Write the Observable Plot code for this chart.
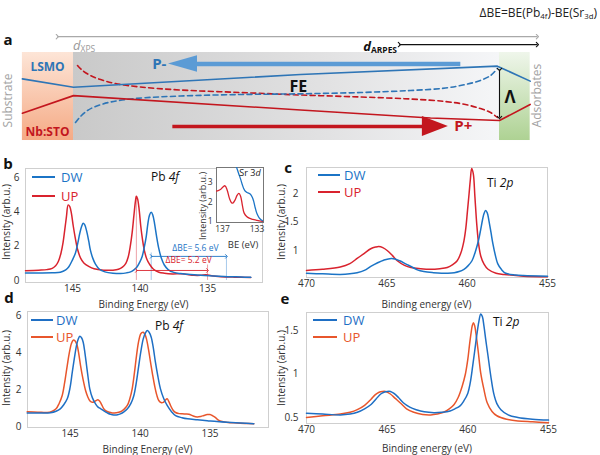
<!DOCTYPE html>
<html>
<head>
<meta charset="utf-8">
<script src="https://cdn.jsdelivr.net/npm/d3@7"></script>
<script src="https://cdn.jsdelivr.net/npm/@observablehq/plot@0.6"></script>
<style>
  html,body{margin:0;padding:0;background:#fff;}
  #fig{position:relative;width:600px;height:455px;overflow:hidden;background:#fff;font-family:"Open Sans",sans-serif;color:#222;}
  #fig svg{position:absolute;}
  .t{position:absolute;white-space:nowrap;line-height:1;}
  .t sub{font-size:0.65em;vertical-align:-0.3em;line-height:0;}
</style>
</head>
<body>
<div id="fig"></div>
<script>
// ================= DATA =================
// ---- panel a: schematic (film depth: FE layer spans 0..100; vertical: energy-like units) ----
const layers = [
  {name: "Substrate", x1: -12, x2: 0, y1: -10, y2: 10},
  {name: "FE", x1: 0, x2: 100, y1: -10, y2: 10},
  {name: "Adsorbates", x1: 100, x2: 107.2, y1: -10, y2: 10}
];
const bandLSMO = [[-12, 4.0], [0, 2.1], [53.3, 5.0], [99.5, 6.9], [107.2, 3.5]];
const bandSTO = [[-12, -3.8], [0, 0.2], [53.3, -3.07], [83.8, -4.89], [100, -5.45], [107.2, -1.8]];
const dashUP = [[0.94, 7.05], [2.11, 5.91], [3.99, 4.77], [6.34, 3.86], [9.86, 2.95], [15.73, 2.16], [25.12, 1.48],
  [39.2, 0.91], [53.3, 0.34], [67.4, -0.11], [79.1, -0.57], [87.3, -1.14], [92.0, -1.82], [95.5, -2.73], [97.9, -3.64], [99.5, -4.77]];
const dashDW = [[0.47, -5.91], [1.64, -4.55], [3.29, -3.18], [5.16, -2.27], [8.69, -1.25], [14.55, -0.45], [25.12, 0.11],
  [39.2, 0.45], [53.3, 0.61], [67.4, 0.91], [79.1, 1.36], [87.3, 1.93], [92.0, 2.73], [95.5, 3.64], [97.9, 4.77], [99.5, 6.36]];
const probeDepths = [
  {name: "XPS", x1: -3.8, x2: 108.9, y: 13.6},
  {name: "ARPES", x1: 76.5, x2: 108.9, y: 11.8}
];
const lambdaStep = [{x: 100, y1: 6.14, y2: -4.77}];
const pMinusShaft = [{x1: 90.8, x2: 28, y: 7.39}];
const pMinusHead = [{x: 22.3, y1: 7.39, y2: 7.39}, {x: 29.1, y1: 5.52, y2: 9.26}];
const pPlusShaft = [{x1: 23.2, x2: 83, y: -6.82}];
const pPlusHead = [{x: 81.9, y1: -9.09, y2: -4.55}, {x: 88.0, y1: -6.82, y2: -6.82}];
const aTexts = [
  {text: "Substrate", x: -15.3, y: -0.9},
  {text: "Adsorbates", x: 108.9, y: 0.2},
  {text: "LSMO", x: -6.1, y: 6.6},
  {text: "Nb:STO", x: -6.1, y: -8.2},
  {text: "FE", x: 52.8, y: 2.3},
  {text: "P-", x: 21.8, y: 7.4},
  {text: "P+", x: 89.4, y: -6.8},
  {text: "Λ", x: 101.2, y: -0.3}
];

// ---- panel b: Pb 4f (binding energy eV, intensity arb.u.) ----
const bDW = [[148.48,0.43],[146.5,0.45],[145.9,0.48],[145.5,0.62],[145.27,0.8],[145.0,1.2],[144.78,1.6],[144.6,2.2],[144.46,2.75],
  [144.32,3.15],[144.21,3.33],[144.1,3.25],[143.96,2.9],[143.8,2.3],[143.67,1.75],[143.5,1.3],[143.3,0.95],[143.0,0.65],[142.6,0.5],
  [142.0,0.42],[141.44,0.4],[141.0,0.44],[140.7,0.5],[140.45,0.62],[140.21,0.8],[140.0,1.1],[139.84,1.4],[139.68,1.95],[139.54,2.55],
  [139.42,3.3],[139.3,3.8],[139.17,3.97],[139.05,3.8],[138.92,3.3],[138.78,2.6],[138.62,1.9],[138.43,1.32],[138.2,0.9],[137.9,0.62],
  [137.5,0.47],[137.0,0.4],[136.5,0.36],[135.5,0.3],[134.5,0.26],[133.5,0.22],[132.5,0.2],[131.8,0.18]];
const bUP = [[148.48,0.57],[147.5,0.6],[146.9,0.63],[146.5,0.7],[146.25,0.85],[146.05,1.1],[145.85,1.6],[145.7,2.2],[145.58,2.9],
  [145.45,3.7],[145.32,4.4],[145.2,4.3],[145.08,3.9],[144.95,3.2],[144.8,2.5],[144.62,1.8],[144.4,1.3],[144.16,1.02],[143.8,0.82],
  [143.4,0.68],[142.7,0.6],[142.0,0.6],[141.6,0.65],[141.3,0.78],[141.05,1.0],[140.88,1.35],[140.72,2.0],[140.58,2.8],[140.45,3.8],
  [140.34,4.6],[140.27,4.9],[140.18,4.75],[140.06,4.1],[139.95,3.2],[139.82,2.4],[139.68,1.75],[139.5,1.25],[139.3,0.95],[139.0,0.65],
  [138.6,0.48],[138.2,0.42],[137.6,0.38],[137.0,0.39],[136.6,0.36],[136.0,0.3],[135.5,0.3],[135.1,0.33],[134.7,0.27],[134.0,0.22],
  [133.0,0.19],[131.8,0.17]];
const bShiftRules = [
  {be: 140.27, top: 4.9, pol: "UP"}, {be: 135.0, top: 0.9, pol: "UP"},
  {be: 139.17, top: 1.6, pol: "DW"}, {be: 133.6, top: 1.4, pol: "DW"}
];
const bShiftArrows = [
  {pol: "DW", from: 139.17, to: 133.6, y: 1.4, label: "ΔBE= 5.6 eV", lx: 135.9, ly: 1.85},
  {pol: "UP", from: 140.27, to: 135.0, y: 0.58, label: "ΔBE= 5.2 eV", lx: 136.4, ly: 1.16}
];
// inset: Sr 3d
const insDW = [[135.7,4.3],[135.5,3.95],[135.3,3.68],[135.1,3.42],[134.9,3.17],[134.7,2.88],[134.53,2.68],[134.35,2.55],[134.15,2.49],
  [133.95,2.45],[133.77,2.4],[133.55,2.25],[133.39,2.05],[133.2,1.7],[133.0,1.4],[132.75,1.2],[132.5,1.09],[132.25,1.03]];
const insUP = [[137.69,2.56],[137.5,2.58],[137.2,2.65],[136.95,2.77],[136.7,2.83],[136.45,2.6],[136.2,2.2],[135.95,1.97],[135.8,1.95],
  [135.55,2.1],[135.3,2.35],[135.1,2.44],[134.9,2.3],[134.7,1.85],[134.5,1.45],[134.2,1.27],[133.9,1.18],[133.5,1.12],[133.0,1.07],[132.25,1.01]];

// ---- panel c: Ti 2p ----
const cUP = [[470,0.65],[469,0.67],[467.9,0.71],[467.3,0.77],[466.85,0.86],[466.4,0.95],[466.0,1.03],[465.7,1.06],[465.5,1.07],
  [465.25,1.05],[464.98,1.0],[464.65,0.91],[464.35,0.82],[463.9,0.74],[463.5,0.7],[462.9,0.68],[462.3,0.67],[461.7,0.68],[461.24,0.7],
  [460.9,0.75],[460.62,0.82],[460.4,0.95],[460.2,1.17],[460.08,1.4],[459.98,1.7],[459.88,2.0],[459.8,2.25],[459.72,2.44],[459.62,2.35],
  [459.52,1.95],[459.4,1.45],[459.28,1.1],[459.15,0.9],[458.95,0.76],[458.7,0.67],[458.2,0.6],[457.7,0.58],[456.5,0.55],[455,0.54]];
const cDW = [[470,0.6],[469,0.59],[467.9,0.58],[467.3,0.59],[466.85,0.61],[466.4,0.65],[466.0,0.72],[465.6,0.78],[465.2,0.83],
  [464.7,0.86],[464.2,0.82],[463.8,0.76],[463.5,0.72],[463.1,0.66],[462.7,0.63],[462.1,0.61],[461.6,0.6],[461.2,0.6],[460.8,0.61],
  [460.5,0.63],[460.2,0.67],[459.95,0.73],[459.7,0.82],[459.5,0.97],[459.3,1.17],[459.15,1.38],[459.05,1.53],[458.95,1.65],[458.85,1.7],
  [458.75,1.66],[458.65,1.53],[458.52,1.32],[458.4,1.12],[458.25,0.92],[458.1,0.77],[457.85,0.66],[457.6,0.6],[457.0,0.57],[456.5,0.56],[455,0.55]];

// ---- panel d: Pb 4f ----
const dDW = [[148.06,0.74],[147.2,0.74],[146.4,0.75],[146.0,0.83],[145.7,0.96],[145.45,1.18],[145.2,1.5],[145.0,2.1],[144.84,2.94],
  [144.68,3.75],[144.54,4.38],[144.42,4.72],[144.3,4.88],[144.18,4.8],[144.06,4.56],[143.94,4.0],[143.82,3.3],[143.7,2.6],[143.59,2.04],
  [143.4,1.55],[143.18,1.23],[143.0,1.05],[142.8,0.96],[142.55,0.83],[142.34,0.74],[142.1,0.66],[141.87,0.63],[141.6,0.64],[141.4,0.69],
  [141.15,0.8],[140.9,0.96],[140.65,1.25],[140.44,1.68],[140.26,2.4],[140.09,3.3],[139.93,4.1],[139.77,4.74],[139.62,5.05],[139.49,5.19],
  [139.35,5.1],[139.2,4.83],[139.05,4.25],[138.9,3.48],[138.72,2.7],[138.54,2.04],[138.3,1.5],[138.06,1.14],[137.75,0.8],[137.46,0.59],
  [137.0,0.48],[136.6,0.42],[135.9,0.37],[135.2,0.32],[134.5,0.27],[133.77,0.23],[132.8,0.19],[131.87,0.15]];
const dUP = [[148.06,0.8],[147.3,0.78],[146.63,0.76],[146.3,0.82],[146.0,0.96],[145.78,1.25],[145.56,1.68],[145.38,2.4],[145.2,3.3],
  [145.05,4.0],[144.91,4.47],[144.82,4.63],[144.73,4.68],[144.61,4.6],[144.49,4.38],[144.37,3.9],[144.25,3.3],[144.07,2.55],[143.89,1.95],
  [143.73,1.6],[143.59,1.4],[143.45,1.32],[143.3,1.33],[143.15,1.4],[143.01,1.45],[142.89,1.38],[142.77,1.23],[142.62,1.0],[142.46,0.86],
  [142.2,0.77],[141.99,0.74],[141.7,0.75],[141.4,0.8],[141.15,0.93],[140.91,1.14],[140.73,1.5],[140.56,2.04],[140.4,2.9],[140.25,3.84],
  [140.1,4.6],[139.96,5.0],[139.87,5.08],[139.77,5.1],[139.65,4.98],[139.54,4.74],[139.4,4.2],[139.25,3.48],[139.1,2.8],[138.96,2.22],
  [138.8,1.7],[138.66,1.41],[138.5,1.3],[138.34,1.31],[138.2,1.42],[138.06,1.5],[137.94,1.35],[137.82,1.14],[137.65,0.9],[137.46,0.76],
  [137.2,0.7],[136.99,0.69],[136.75,0.68],[136.51,0.67],[136.2,0.57],[135.91,0.52],[135.65,0.55],[135.44,0.6],[135.2,0.65],[135.01,0.65],
  [134.8,0.58],[134.6,0.48],[134.4,0.35],[134.13,0.27],[133.7,0.22],[133.3,0.2],[132.5,0.17],[131.87,0.15]];

// ---- panel e: Ti 2p ----
const eDW = [[470,0.55],[469,0.54],[467.9,0.53],[467.3,0.54],[466.85,0.56],[466.4,0.6],[466.0,0.65],[465.7,0.71],[465.4,0.77],
  [465.2,0.79],[465.0,0.8],[464.8,0.8],[464.6,0.78],[464.3,0.73],[464.0,0.67],[463.6,0.62],[463.2,0.59],[462.7,0.565],[462.1,0.555],
  [461.6,0.56],[461.1,0.575],[460.8,0.6],[460.5,0.63],[460.25,0.69],[460.0,0.78],[459.85,0.9],[459.7,1.09],[459.57,1.27],[459.45,1.44],
  [459.32,1.6],[459.2,1.69],[459.1,1.66],[459.0,1.55],[458.88,1.38],[458.75,1.21],[458.58,0.98],[458.4,0.78],[458.2,0.66],[457.95,0.59],
  [457.5,0.53],[456.9,0.5],[456,0.48],[455,0.47]];
const eUP = [[470,0.5],[469,0.52],[467.9,0.54],[467.3,0.56],[466.85,0.59],[466.4,0.64],[466.0,0.71],[465.75,0.76],[465.5,0.79],
  [465.3,0.8],[465.1,0.8],[464.8,0.77],[464.5,0.72],[464.2,0.67],[463.8,0.6],[463.35,0.56],[462.8,0.535],[462.3,0.53],[461.9,0.54],
  [461.5,0.56],[461.15,0.6],[460.85,0.65],[460.6,0.73],[460.35,0.86],[460.15,1.0],[460.0,1.17],[459.9,1.33],[459.8,1.47],[459.72,1.56],
  [459.65,1.59],[459.57,1.55],[459.5,1.47],[459.35,1.25],[459.2,1.01],[459.0,0.82],[458.8,0.67],[458.5,0.57],[458.2,0.52],[457.6,0.48],
  [456.9,0.46],[456,0.45],[455,0.44]];

// tick values
const pbTicksX = [145, 140, 135];
const pbTicksY = [0, 2, 4, 6];
const tiTicksX = [470, 465, 460, 455];
const cTicksY = [1, 1.5, 2];
const eTicksY = [0.5, 1, 1.5];
const insTicksX = [137, 133];
const insTicksY = [1, 2, 3];

// ================= RENDER =================
const fig = document.getElementById("fig");
const BLUE = "#1b74c6", RED = "#d9232e", BLUE2 = "#1f6fc4", ORANGE = "#e8562c";
const FONT = "Open Sans, sans-serif";
const X = d => d[0], Y = d => d[1];

function place(svg, left, top) {
  svg.style.left = left + "px"; svg.style.top = top + "px";
  fig.appendChild(svg);
}
function text(html, x, y, css = "", anchor = "middle", rotate = 0) {
  const d = document.createElement("div");
  d.className = "t";
  d.innerHTML = html;
  d.style.cssText += `left:${x}px;top:${y}px;${css}`;
  const tx = anchor === "start" ? "0" : anchor === "end" ? "-100%" : "-50%";
  d.style.transform = rotate ? `translate(-50%,-50%) rotate(${rotate}deg)` : `translate(${tx},-50%)`;
  fig.appendChild(d);
}
function legendEntry(x1, x2, y, tx, label, color) {
  const l = document.createElement("div");
  l.style.cssText = `position:absolute;left:${x1}px;top:${y - 1}px;width:${x2 - x1}px;height:2px;background:${color};`;
  fig.appendChild(l);
  text(label, tx, y, `font-size:13px;color:${color};`, "start");
}

// gradients for schematic layers
function gradientDefs() {
  const g = d3.create("svg:g");
  const defs = g.append("defs");
  const add = (id, x2, y2, stops) => {
    const lg = defs.append("linearGradient").attr("id", id)
      .attr("x1", 0).attr("y1", 0).attr("x2", x2).attr("y2", y2);
    stops.forEach(([o, c]) => lg.append("stop").attr("offset", o).attr("stop-color", c));
  };
  add("gSub", 0, 1, [[0, "#fde5d7"], [1, "#f5aa85"]]);
  add("gFE", 1, 0, [[0, "#c9c9c9"], [0.6, "#e2e2e3"], [1, "#f5f6f8"]]);
  add("gAds", 0, 1, [[0, "#eff6eb"], [1, "#aed293"]]);
  return g.node();
}

// ---------- panel a ----------
const layerFill = {Substrate: "url(#gSub)", FE: "url(#gFE)", Adsorbates: "url(#gAds)"};
const pa = Plot.plot({
  width: 600, height: 150, margin: 0,
  x: {domain: [-17.14, 123.71], axis: null},
  y: {domain: [-12.27, 21.82], axis: null},
  style: {background: "transparent", fontFamily: FONT, overflow: "visible"},
  marks: [
    gradientDefs,
    ...layers.map(l => Plot.rect([l], {x1: "x1", x2: "x2", y1: "y1", y2: "y2", fill: layerFill[l.name]})),
    Plot.link(probeDepths.filter(d => d.name === "XPS"), {x1: "x1", x2: "x2", y1: "y", y2: "y", stroke: "#a9a9a9", strokeWidth: 1.1, markerStart: "arrow", markerEnd: "arrow"}),
    Plot.link(probeDepths.filter(d => d.name === "ARPES"), {x1: "x1", x2: "x2", y1: "y", y2: "y", stroke: "#111", strokeWidth: 1.1, markerStart: "arrow", markerEnd: "arrow"}),
    Plot.line(dashUP, {x: X, y: Y, stroke: "#c3161e", strokeWidth: 1.6, strokeDasharray: "5,3.5", curve: "catmull-rom"}),
    Plot.line(dashDW, {x: X, y: Y, stroke: "#2e75b6", strokeWidth: 1.6, strokeDasharray: "5,3.5", curve: "catmull-rom"}),
    Plot.line(bandLSMO, {x: X, y: Y, stroke: "#2e75b6", strokeWidth: 1.6}),
    Plot.line(bandSTO, {x: X, y: Y, stroke: "#c3161e", strokeWidth: 1.6}),
    Plot.link(pMinusShaft, {x1: "x1", x2: "x2", y1: "y", y2: "y", stroke: "#5b9bd5", strokeWidth: 4.5}),
    Plot.areaY(pMinusHead, {x: "x", y1: "y1", y2: "y2", fill: "#5b9bd5"}),
    Plot.link(pPlusShaft, {x1: "x1", x2: "x2", y1: "y", y2: "y", stroke: "#c3161e", strokeWidth: 3.5}),
    Plot.areaY(pPlusHead, {x: "x", y1: "y1", y2: "y2", fill: "#c3161e"}),
    Plot.link(lambdaStep, {x1: "x", x2: "x", y1: "y1", y2: "y2", stroke: "#111", strokeWidth: 1.1, markerStart: "arrow", markerEnd: "arrow"}),
    Plot.text(aTexts, {filter: d => d.text === "Substrate" || d.text === "Adsorbates", x: "x", y: "y", text: "text", rotate: -90, fill: "#a3a3a3", fontSize: 12}),
    Plot.text(aTexts, {filter: d => d.text === "LSMO", x: "x", y: "y", text: "text", fill: "#2e75b6", fontWeight: "bold", fontSize: 12}),
    Plot.text(aTexts, {filter: d => d.text === "Nb:STO", x: "x", y: "y", text: "text", fill: "#c3161e", fontWeight: "bold", fontSize: 12}),
    Plot.text(aTexts, {filter: d => d.text === "FE", x: "x", y: "y", text: "text", fill: "#111", fontWeight: "bold", fontSize: 16}),
    Plot.text(aTexts, {filter: d => d.text === "P-", x: "x", y: "y", text: "text", fill: "#2e75b6", fontWeight: "bold", fontSize: 15, textAnchor: "end"}),
    Plot.text(aTexts, {filter: d => d.text === "P+", x: "x", y: "y", text: "text", fill: "#c3161e", fontWeight: "bold", fontSize: 15, textAnchor: "start"}),
    Plot.text(aTexts, {filter: d => d.text === "Λ", x: "x", y: "y", text: "text", fill: "#111", fontWeight: "bold", fontSize: 17, textAnchor: "start"})
  ]
});
place(pa, 0, 0);

// common axis style
function specPlot(o) {
  return Plot.plot({
    width: o.width, height: o.height,
    marginLeft: o.ml, marginRight: o.mr, marginTop: o.mt, marginBottom: o.mb,
    x: {domain: o.xd, ticks: o.xt, tickSize: 0, tickPadding: o.xpad ?? 2, label: null, tickFormat: d => String(d)},
    y: {domain: o.yd, ticks: o.yt, tickSize: 0, tickPadding: o.ypad ?? 6, label: null, tickFormat: d => String(d)},
    style: {background: "transparent", fontFamily: FONT, fontSize: (o.fs ?? 10) + "px", color: "#333"},
    marks: o.marks
  });
}

// ---------- panel b ----------
const pb = specPlot({
  width: 268, height: 150, ml: 25, mr: 6, mt: 8, mb: 28,
  xd: [148.48, 130.93], yd: [-0.12, 6.52], xt: pbTicksX, yt: pbTicksY, ypad: 6,
  marks: [
    Plot.frame({stroke: "#cfcfcf"}),
    Plot.ruleX(bShiftRules.filter(d => d.pol === "UP"), {x: "be", y1: 0, y2: "top", stroke: "#e88a90", strokeWidth: 0.8}),
    Plot.ruleX(bShiftRules.filter(d => d.pol === "DW"), {x: "be", y1: 0, y2: "top", stroke: "#8fbbe6", strokeWidth: 0.8}),
    Plot.line(bUP, {x: X, y: Y, stroke: RED, strokeWidth: 1.5, curve: "catmull-rom"}),
    Plot.line(bDW, {x: X, y: Y, stroke: BLUE, strokeWidth: 1.5, curve: "catmull-rom"}),
    Plot.link(bShiftArrows.filter(d => d.pol === "DW"), {x1: "from", x2: "to", y1: "y", y2: "y", stroke: BLUE, strokeWidth: 0.9, markerStart: "arrow", markerEnd: "arrow"}),
    Plot.link(bShiftArrows.filter(d => d.pol === "UP"), {x1: "from", x2: "to", y1: "y", y2: "y", stroke: RED, strokeWidth: 0.9, markerStart: "arrow", markerEnd: "arrow"}),
    Plot.text(bShiftArrows.filter(d => d.pol === "DW"), {x: "lx", y: "ly", text: "label", fill: BLUE, fontSize: 8.5}),
    Plot.text(bShiftArrows.filter(d => d.pol === "UP"), {x: "lx", y: "ly", text: "label", fill: RED, fontSize: 8.5})
  ]
});
place(pb, 0, 160);

// inset (Sr 3d)
const pins = specPlot({
  width: 80, height: 100, ml: 28, mr: 5, mt: 9, mb: 36, fs: 8.5,
  xd: [137.69, 132.25], yd: [0.96, 3.76], xt: insTicksX, yt: insTicksY, xpad: 3, ypad: 4,
  marks: [
    Plot.frame({stroke: "#777", fill: "white"}),
    Plot.line(insUP, {x: X, y: Y, stroke: RED, strokeWidth: 1.3, curve: "catmull-rom", clip: true}),
    Plot.line(insDW, {x: X, y: Y, stroke: BLUE, strokeWidth: 1.3, curve: "catmull-rom", clip: true})
  ]
});
place(pins, 188, 158);

// ---------- panel c ----------
const pc = specPlot({
  width: 332, height: 150, ml: 38, mr: 53, mt: 7, mb: 33,
  xd: [470, 455], yd: [0.526, 2.456], xt: tiTicksX, yt: cTicksY, ypad: 8,
  marks: [
    Plot.frame({stroke: "#cfcfcf"}),
    Plot.line(cUP, {x: X, y: Y, stroke: RED, strokeWidth: 1.5, curve: "catmull-rom"}),
    Plot.line(cDW, {x: X, y: Y, stroke: BLUE, strokeWidth: 1.5, curve: "catmull-rom"})
  ]
});
place(pc, 268, 160);

// ---------- panel d ----------
const pd = specPlot({
  width: 270, height: 150, ml: 27, mr: 2, mt: 6, mb: 28,
  xd: [148.04, 130.82], yd: [-0.05, 6.22], xt: pbTicksX, yt: pbTicksY, ypad: 6,
  marks: [
    Plot.frame({stroke: "#cfcfcf"}),
    Plot.line(dUP, {x: X, y: Y, stroke: ORANGE, strokeWidth: 1.5, curve: "catmull-rom"}),
    Plot.line(dDW, {x: X, y: Y, stroke: BLUE2, strokeWidth: 1.5, curve: "catmull-rom"})
  ]
});
place(pd, 0, 305);

// ---------- panel e ----------
const pe = specPlot({
  width: 332, height: 150, ml: 38, mr: 52, mt: 7, mb: 32,
  xd: [470, 455], yd: [0.431, 1.707], xt: tiTicksX, yt: eTicksY, ypad: 8,
  marks: [
    Plot.frame({stroke: "#cfcfcf"}),
    Plot.line(eUP, {x: X, y: Y, stroke: ORANGE, strokeWidth: 1.5, curve: "catmull-rom"}),
    Plot.line(eDW, {x: X, y: Y, stroke: BLUE2, strokeWidth: 1.5, curve: "catmull-rom"})
  ]
});
place(pe, 268, 305);

// ---------- texts ----------
text("ΔBE=BE(Pb<sub>4f</sub>)-BE(Sr<sub>3d</sub>)", 597, 13, "font-size:12px;color:#222;", "end");
text("<i>d</i><sub>XPS</sub>", 73, 45, "font-size:13px;color:#9a9a9a;", "start");
text("<b><i>d</i><sub>ARPES</sub></b>", 397, 46, "font-size:13px;color:#111;", "end");

const panelCss = "font-size:15px;font-weight:bold;color:#111;";
text("a", 8, 39, panelCss); text("b", 8, 163, panelCss); text("c", 288, 167, panelCss);
text("d", 9, 297, panelCss); text("e", 285, 298, panelCss);

const axCss = "font-size:10px;color:#333;";
const ayCss = "font-size:10px;color:#333;";
text("Binding Energy (eV)", 143.5, 304, axCss);
text("Intensity (arb.u.)", 6, 222, ayCss, "middle", -90);
text("Binding energy (eV)", 426.5, 304, axCss);
text("Intensity (arb.u.)", 281, 222, ayCss, "middle", -90);
text("Binding Energy (eV)", 147.5, 449, axCss);
text("Intensity (arb.u.)", 6, 368, ayCss, "middle", -90);
text("Binding energy (eV)", 427, 448, axCss);
text("Intensity (arb.u.)", 281, 368, ayCss, "middle", -90);
text("BE (eV)", 243, 245, "font-size:9.5px;color:#333;");
text("Intensity (arb.u.)", 202, 206, "font-size:9px;color:#333;", "middle", -90);
text("Sr 3<i>d</i>", 250, 172, "font-size:9px;color:#222;");

const noteCss = "font-size:12px;color:#111;";
text("Pb <i>4f</i>", 151, 177, noteCss, "start");
text("Ti <i>2p</i>", 487, 183, noteCss, "start");
text("Pb <i>4f</i>", 155, 326, noteCss, "start");
text("Ti <i>2p</i>", 493, 322, noteCss, "start");

legendEntry(32, 55, 177, 61, "DW", BLUE);
legendEntry(32, 55, 196, 61, "UP", RED);
legendEntry(318, 340, 175, 344, "DW", BLUE);
legendEntry(318, 340, 192, 344, "UP", RED);
legendEntry(31, 53, 320, 56, "DW", BLUE2);
legendEntry(31, 53, 337, 56, "UP", ORANGE);
legendEntry(313, 337, 320, 343, "DW", BLUE2);
legendEntry(313, 337, 337, 343, "UP", ORANGE);
</script>
</body>
</html>
